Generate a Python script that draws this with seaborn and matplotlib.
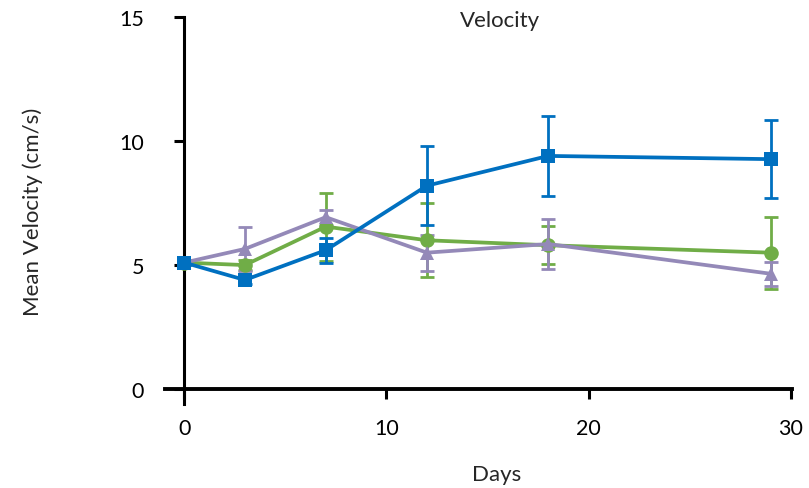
import pandas as pd
import seaborn as sns
import matplotlib.pyplot as plt

days = [0, 3, 7, 12, 18, 29]

blue_vals = [5.1, 4.4, 5.6, 8.2, 9.4, 9.27]
blue_err = [0.1, 0.15, 0.5, 1.6, 1.6, 1.57]

green_vals = [5.1, 5.0, 6.55, 6.0, 5.8, 5.5]
green_err = [0.1, 0.2, 1.37, 1.5, 0.77, 1.45]

purple_vals = [5.1, 5.65, 6.93, 5.5, 5.85, 4.65]
purple_err = [0.1, 0.9, 0.3, 0.72, 1.0, 0.48]

groups = ['Group 1', 'Group 2', 'Group 3']
colors = {'Group 1': '#70AD47', 'Group 2': '#9489B8', 'Group 3': '#0070C0'}
markers = {'Group 1': 'o', 'Group 2': '^', 'Group 3': 's'}

df = pd.DataFrame({
    'Days': days * 3,
    'Velocity': green_vals + purple_vals + blue_vals,
    'Err': green_err + purple_err + blue_err,
    'Group': [g for g in groups for _ in days],
})

sns.set_theme(style='white')
plt.rcParams['font.family'] = ['Lato', 'DejaVu Sans']

fig = plt.figure(figsize=(8.09, 4.89), dpi=100)
ax = fig.add_axes([165 / 809, 1 - 405 / 489, 627 / 809, 387 / 489])

for g in groups:
    sub = df[df['Group'] == g]
    ax.errorbar(sub['Days'], sub['Velocity'], yerr=sub['Err'], fmt='none',
                ecolor=colors[g], elinewidth=2, capsize=5, capthick=2, zorder=2)

sns.lineplot(data=df, x='Days', y='Velocity', hue='Group', style='Group',
             palette=colors, markers=markers, dashes=False, linewidth=2.7,
             markersize=10.5, markeredgewidth=0, legend=False, ax=ax, zorder=3)

ax.set_xlim(-0.95, 30.05)
ax.set_ylim(-0.6, 15)
ax.set_xticks([0, 10, 20, 30])
ax.set_yticks([0, 5, 10, 15])

ax.spines['left'].set_position(('data', 0))
ax.spines['bottom'].set_position(('data', 0))
ax.spines['top'].set_visible(False)
ax.spines['right'].set_visible(False)
ax.spines['left'].set_linewidth(2.2)
ax.spines['bottom'].set_linewidth(2.8)
ax.spines['left'].set_color('black')
ax.spines['bottom'].set_color('black')

ax.tick_params(axis='y', direction='out', length=7, width=2.2, pad=22,
               labelsize=15.5, left=True, colors='black')
ax.tick_params(axis='x', direction='out', length=7, width=2.2, pad=14,
               labelsize=15.5, bottom=True, colors='black')

ax.set_xlabel('Days', fontsize=16, va='center')
ax.set_ylabel('Mean Velocity (cm/s)', fontsize=16, va='center')
ax.xaxis.set_label_coords((497 - 165) / 627, (405 - 475) / 387)
ax.yaxis.set_label_coords((33 - 165) / 627, 0.5)

fig.text(500 / 809, 1 - 21 / 489, 'Velocity', fontsize=16, ha='center', va='center')

fig.savefig('out.png', dpi=100)
